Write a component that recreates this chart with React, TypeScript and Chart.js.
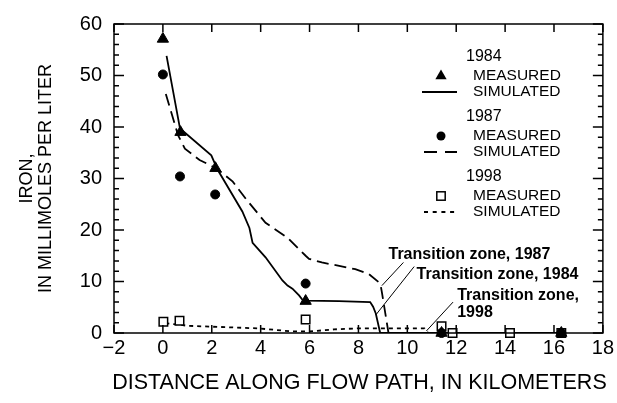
import React, { useEffect, useRef } from "react";
import { Chart, registerables } from "chart.js";

Chart.register(...registerables);

// ---- data ----
const meas1984X = [0.0, 0.72, 2.15, 5.84, 11.4, 16.3];
const meas1984Y = [57.1, 39.0, 32.0, 6.2, 0, 0];
const meas1987X = [0.0, 0.7, 2.14, 5.84, 11.4, 16.3];
const meas1987Y = [50.2, 30.4, 26.9, 9.6, 0, 0];
const meas1998X = [0.02, 0.68, 5.84, 11.4, 11.85, 14.2, 16.3];
const meas1998Y = [2.2, 2.4, 2.6, 1.3, 0, 0, 0];

const sim1984X = [0.15, 0.7, 1.98, 2.24, 3.25, 3.54, 3.67, 4.2, 4.89, 5.1, 5.3, 5.57, 5.7, 5.84, 7.2, 8.48, 8.6, 8.71, 8.89, 16.4];
const sim1984Y = [53.8, 39.7, 34.5, 31.7, 23.6, 20.4, 17.5, 14.7, 10.2, 9.2, 8.6, 7.3, 6.5, 6.3, 6.2, 6.0, 5.1, 3.8, 0, 0];
const sim1987X = [0.12, 0.62, 0.9, 1.5, 2.18, 2.86, 3.4, 4.2, 5.1, 5.84, 5.98, 6.5, 7.87, 8.41, 8.82, 8.9, 8.96, 9.23, 16.4];
const sim1987Y = [46.4, 38.4, 35.8, 33.6, 32.0, 29.4, 26.0, 21.4, 18.5, 15.0, 14.4, 13.7, 12.4, 11.5, 9.9, 9.5, 7.9, 0, 0];
const sim1998X = [0.1, 0.7, 1.0, 3.9, 5.3, 6.0, 7.0, 8.0, 10.7, 10.85, 16.4];
const sim1998Y = [1.9, 1.6, 1.4, 0.9, 0.3, 0.3, 0.7, 0.9, 0.9, 0, 0];

const xTicks = [-2, 0, 2, 4, 6, 8, 10, 12, 14, 16, 18];
const yTicks = [0, 10, 20, 30, 40, 50, 60];
const yMinorStep = 2;

const legendYears = ["1984", "1987", "1998"];
const legendMeasured = "MEASURED";
const legendSimulated = "SIMULATED";
const xTitle = "DISTANCE ALONG FLOW PATH, IN KILOMETERS";
const yTitleLines = ["IRON,", "IN MILLIMOLES PER LITER"];

// annotations: text lines, text anchor (data), leader start (data), leader end (data)
const annotations = [
  { lines: ["Transition zone, 1987"], tx: 9.23, ty: 15.2, fromX: 9.84, fromY: 13.7, toX: 8.96, toY: 9.2 },
  { lines: ["Transition zone, 1984"], tx: 10.38, ty: 11.3, fromX: 10.28, fromY: 12.9, toX: 8.71, toY: 3.5 },
  { lines: ["Transition zone,", "1998"], tx: 12.04, ty: 7.3, fromX: 11.87, fromY: 6.0, toX: 10.78, toY: 0.4 },
];

const FONT = "'Liberation Sans', Arial, Helvetica, sans-serif";

const pts = (xs: number[], ys: number[]) => xs.map((x, i) => ({ x, y: ys[i] }));

const decor = {
  id: "decor",
  afterDatasetsDraw(chart: any) {
    const { ctx, chartArea: a, scales } = chart;
    const x = scales.x, y = scales.y;
    ctx.save();
    ctx.strokeStyle = "#000";
    ctx.lineWidth = 1.5;
    ctx.strokeRect(a.left, a.top, a.right - a.left, a.bottom - a.top);
    ctx.beginPath();
    for (const v of xTicks) {
      const px = x.getPixelForValue(v);
      ctx.moveTo(px, a.bottom);
      ctx.lineTo(px, a.bottom - 8);
      ctx.moveTo(px, a.top);
      ctx.lineTo(px, a.top + 8);
    }
    const yMin = yTicks[0], yMax = yTicks[yTicks.length - 1];
    for (let v = yMin; v <= yMax; v += yMinorStep) {
      const py = y.getPixelForValue(v);
      const len = yTicks.includes(v) ? 10 : 5;
      ctx.moveTo(a.left, py);
      ctx.lineTo(a.left + len, py);
      ctx.moveTo(a.right, py);
      ctx.lineTo(a.right - len, py);
    }
    ctx.stroke();
    ctx.restore();
  },
  afterDraw(chart: any) {
    const { ctx, chartArea: a, scales } = chart;
    const x = scales.x, y = scales.y;
    ctx.save();
    ctx.fillStyle = "#000";
    ctx.strokeStyle = "#000";

    // axis titles
    ctx.font = `21.5px ${FONT}`;
    ctx.textAlign = "center";
    ctx.textBaseline = "middle";
    ctx.fillText(xTitle, (a.left + a.right) / 2 + 1, 383);
    ctx.font = `18px ${FONT}`;
    const cy = (a.top + a.bottom) / 2;
    [27, 46].forEach((tx, i) => {
      ctx.save();
      ctx.translate(tx, cy);
      ctx.rotate(-Math.PI / 2);
      ctx.fillText(yTitleLines[i], 0, 0);
      ctx.restore();
    });

    // legend
    const groupY = [57, 117, 177];
    const mx = 441;
    ctx.textAlign = "left";
    groupY.forEach((gy, i) => {
      ctx.font = `16px ${FONT}`;
      ctx.fillText(legendYears[i], 466, gy);
      ctx.font = `15.5px ${FONT}`;
      ctx.fillText(legendMeasured, 473, gy + 19);
      ctx.fillText(legendSimulated, 473, gy + 35);
      const my = gy + 19;
      ctx.lineWidth = 1.5;
      if (i === 0) {
        const r = 6.5;
        ctx.beginPath();
        ctx.moveTo(mx, my - r);
        ctx.lineTo(mx + r * 0.866, my + r / 2);
        ctx.lineTo(mx - r * 0.866, my + r / 2);
        ctx.closePath();
        ctx.fill();
      } else if (i === 1) {
        ctx.beginPath();
        ctx.arc(mx, my, 4.5, 0, Math.PI * 2);
        ctx.fill();
      } else {
        ctx.fillStyle = "#fff";
        ctx.fillRect(mx - 4.2, my - 4.2, 8.4, 8.4);
        ctx.strokeRect(mx - 4.2, my - 4.2, 8.4, 8.4);
        ctx.fillStyle = "#000";
      }
      const ly = gy + 35;
      ctx.lineWidth = 1.8;
      ctx.setLineDash(i === 0 ? [] : i === 1 ? [13, 8] : [4, 4.7]);
      ctx.beginPath();
      ctx.moveTo(i === 0 ? 422 : 424, ly);
      ctx.lineTo(457, ly);
      ctx.stroke();
      ctx.setLineDash([]);
    });

    // annotations
    ctx.font = `bold 16px ${FONT}`;
    ctx.lineWidth = 1;
    annotations.forEach((an) => {
      const tx = x.getPixelForValue(an.tx);
      const ty = y.getPixelForValue(an.ty);
      an.lines.forEach((ln, k) => ctx.fillText(ln, tx, ty + k * 17));
      ctx.beginPath();
      ctx.moveTo(x.getPixelForValue(an.fromX), y.getPixelForValue(an.fromY));
      ctx.lineTo(x.getPixelForValue(an.toX), y.getPixelForValue(an.toY));
      ctx.stroke();
    });
    ctx.restore();
  },
};

export default function App() {
  const ref = useRef<HTMLCanvasElement>(null);
  useEffect(() => {
    document.body.style.margin = "0";
    const canvas = ref.current!;
    const chart = new Chart(canvas, {
      type: "scatter",
      data: {
        datasets: [
          { data: pts(meas1984X, meas1984Y), pointStyle: "triangle", pointRadius: 6.5, backgroundColor: "#000", borderColor: "#000", borderWidth: 1, clip: false } as any,
          { data: pts(meas1987X, meas1987Y), pointStyle: "circle", pointRadius: 4.5, backgroundColor: "#000", borderColor: "#000", borderWidth: 1, clip: false },
          { data: pts(meas1998X, meas1998Y), pointStyle: "rect", pointRadius: 6, backgroundColor: "#fff", borderColor: "#000", borderWidth: 1.5, clip: false },
          { data: pts(sim1984X, sim1984Y), showLine: true, pointRadius: 0, borderColor: "#000", borderWidth: 1.8, tension: 0 },
          { data: pts(sim1987X, sim1987Y), showLine: true, pointRadius: 0, borderColor: "#000", borderWidth: 1.8, borderDash: [12, 6], tension: 0 },
          { data: pts(sim1998X, sim1998Y), showLine: true, pointRadius: 0, borderColor: "#000", borderWidth: 1.8, borderDash: [4, 4], tension: 0 },
        ],
      },
      options: {
        animation: false,
        responsive: false,
        layout: { padding: { top: 21, right: 11, left: 0, bottom: 0 } },
        plugins: { legend: { display: false }, tooltip: { enabled: false } },
        scales: {
          x: {
            type: "linear",
            min: -2,
            max: 18,
            afterBuildTicks: (s: any) => { s.ticks = xTicks.map((v) => ({ value: v })); },
            afterFit: (s: any) => { s.height = 70; },
            grid: { display: false, drawTicks: false },
            border: { display: false },
            ticks: {
              font: { family: FONT, size: 20 },
              color: "#000",
              padding: 3,
              maxRotation: 0,
              callback: (v: any) => (v < 0 ? "\u2212" + Math.abs(v) : String(v)),
            },
          },
          y: {
            type: "linear",
            min: 0,
            max: 60,
            afterBuildTicks: (s: any) => { s.ticks = yTicks.map((v) => ({ value: v })); },
            afterFit: (s: any) => { s.width = 114; },
            grid: { display: false, drawTicks: false },
            border: { display: false },
            ticks: { font: { family: FONT, size: 20 }, color: "#000", padding: 12 },
          },
        },
      },
      plugins: [decor],
    });
    return () => chart.destroy();
  }, []);
  return <canvas ref={ref} width={617} height={403} style={{ display: "block" }} />;
}
